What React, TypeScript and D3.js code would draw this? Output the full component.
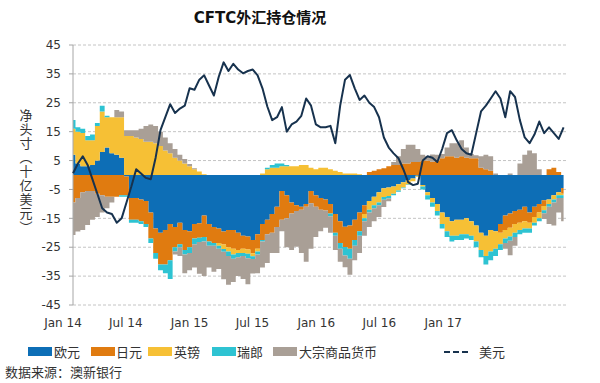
import React from 'react';
import * as d3 from 'd3';

// ---- data (bi-weekly observations, billions USD) ----
const START = new Date(2014, 0, 30);
const N = 102;
const dates: Date[] = d3.range(N).map((i) => d3.timeDay.offset(START, 14 * i));

const eur = [7,4,3,3,3.5,5,8,9.5,7.5,7,6,-0.5,-8,-8,-8.5,-9,-13,-18.5,-20,-19,-17,-18,-16.5,-19,-19.5,-17,-16.7,-14,-17,-18,-18.5,-19.6,-19,-19,-20,-21,-21.3,-22.5,-20.5,-17,-15.5,-13.5,-11,-5.5,-7,-9.5,-10.5,-11,-10,-5.5,-7,-8,-8.5,-10,-13.5,-16,-17.9,-17.5,-15.5,-13,-10.5,-9,-7.5,-6,-4.6,-4.3,-4,-3.2,-2.5,-1.8,-1.2,-0.3,-3.5,-6,-8,-10,-13,-14.5,-16,-15.5,-15.5,-15,-16,-17.5,-20,-21,-19,-19.5,-17,-14,-13.3,-12.5,-12,-11,-13,-11,-10,-8.7,-8.5,-7,-6,-4.5];
const jpy = [-9.5,-8,-6,-5.5,-5.5,-6.5,-7,-7.5,-7.5,-7.5,-7,-6.5,-7.5,-7.5,-7.5,-8,-9,-8.5,-11,-12,-12.5,-7,-7.5,-7,-5.5,-5,-5,-7.5,-6,-5.5,-5,-4.5,-6,-6.5,-6,-4.5,-4.5,-4.6,-5,-5.5,-5,-6.5,-7,-10,-8,-3.8,-2,-1,-1,-4.3,-4,-4,-3.8,-3.3,-6.5,-7.5,-7,-8,-7,-6.5,-3,1,1.5,2,2.3,3,3.5,3.5,4,4,4.5,4.5,5,5,4.6,5,5.8,6.5,6.5,6,6.5,6,5.8,5.8,2.5,2,1.5,0,-3,-5,-5,-4.5,-4.5,-5,-3.5,-3.5,-3,-2,2,2.5,1,-2];
const gbp = [9,11,11.5,9,8.5,12,14,10.5,12.5,13,14,13.5,13.5,13,12.5,11.5,11.5,11,10,8.5,7.5,6,5,4,3,2,1.2,0.3,0,0,-1,-1.5,-1.5,-2,-1,-1.5,-1.5,-1,-1,0.5,2,2.5,2.5,3,3,3,3,3.5,3.5,2.5,2,2.5,2.5,2,1.5,1,0.5,0.5,0.5,0.3,-1.5,-3,-3,-3.5,-3,-3,-2.5,-2.2,-1.8,-1.5,-1,-0.3,-0.5,-1,-1.5,-2.5,-4,-5,-5,-5.5,-5,-5.5,-5,-5.5,-6,-7,-7.5,-6,-4,-3,-3,-3,-2.5,-2.5,-2,-2,-2,-1.5,-1.5,-1.5,-1,-0.5];
const chf = [3,1.5,1.5,1.5,2,1,2,0.5,0,0,-0.5,-0.5,-1,-1,-1,-1,-1.5,-2,-2,-3,-6.5,-1.5,-1,-1.5,-2,-2,-1.5,-1.5,-1.5,-1,-1,-1,-1.5,-1.5,-1.5,-1,-1.5,-1,-1,-0.5,0.5,1,1.5,1,0.5,0,0,0,0,0,0,0,0,-1,-1,-2,-3,-3.5,-2,-1.5,-1,-1,-1,-1,-1,-0.8,-0.5,-0.4,-0.3,-0.2,0,0,-1,-1.5,-1.5,-1.5,-1.5,-2,-2,-1.5,-2,-1.5,-1.5,-2,-2.5,-3,-3,-2.5,-2,-1.5,-1.5,-1.5,-1.5,-1.5,-1.5,-1,-1,-1,-1,-1,-1,-1];
const commodityLong = [0,0,0,0,0,0,0,0,0,2.5,2,2,2,2.5,3.5,5.5,6,6,5,4.5,3.5,3,2,1.5,0.8,0.3,0,0,0,0,0,0,0,0,0,0,0,0,0,0,0,0,0,0,0,0,0,0,0,0,0,0,0,0,0,0,0,0,0,0,0,0,0,0,0,0,1,3,5,6.5,6,4.5,2,1.5,2.5,2,1.5,3,4.5,5,5.5,3.5,1.5,1,4,5,5,0.5,0,0,0.5,0,4,7,8.5,7.5,2,0,0,0,0,0];
const commodityShort = [-11.3,-11.6,-13,-11.8,-10,-8,-6,-4,-2,0,0,0,0,0,0,0,0,0,0,0,0,-1,-3,-6.5,-6,-8,-11,-12,-7.5,-9,-7,-9.5,-10,-8,-6.5,-8,-9,-5,-6.5,-9,-10,-7,-9,-4,-10,-12.7,-12.3,-15,-19,-15.7,-10.5,-7.5,-6,-5.7,-5,-4.5,-4,-5.5,-5,-6,-5,-5,-4.5,-4,-2.5,-1,0,0,0,0,0,0,0,0,0,0,0,0,0,0,0,0,0,0,0,0,0,0,0,-2,-5,-3,0,0,0,0,0,-2,-6,-8,-5,-8];
const usd = [0.6,4,6.5,3.5,-1.5,-6.5,-11.5,-13,-13.5,-16.5,-15,-9.5,-4,2,0.5,-1,-1.5,6,15.5,20,24.5,21.5,23,24,30,29.5,33,34.5,31,27.5,34,39,36,38.5,36.5,35.2,36,36.5,34.5,30,23.7,19,20,23.5,15,17.5,18.5,20.5,26.5,24,17.5,16.5,16.5,17,11,24,33,34.6,30,26,27.5,25,23.5,20,13,9.5,7.5,5.8,2,-2.5,-3.5,-3,5,6.5,6,4.5,9,14.5,15.5,12,9,7.5,7,14.5,22,24,26.5,29,26.5,20,29,27,19,13,11,14,18.5,14.5,16.5,14.5,12.5,16.5];

const yTicks = [-45, -35, -25, -15, -5, 5, 15, 25, 35, 45];
const xTickDates = [new Date(2014,0,1), new Date(2014,6,1), new Date(2015,0,1), new Date(2015,6,1), new Date(2016,0,1), new Date(2016,6,1), new Date(2017,0,1)];
const yTitle = '净头寸（十亿美元）';

const seriesKeys = ['eur', 'jpy', 'gbp', 'chf', 'comL', 'comS'];
const seriesNames: Record<string, string> = { eur: '欧元', jpy: '日元', gbp: '英镑', chf: '瑞郎', comL: '大宗商品货币', comS: '大宗商品货币' };
const colors: Record<string, string> = { eur: '#0D6EB6', jpy: '#E07B10', gbp: '#F6C035', chf: '#2EC3D2', comL: '#A99F96', comS: '#A99F96' };
const lineColor = '#17324E';

const FONT = '"DejaVu Sans", "Noto Sans CJK SC", sans-serif';
const CJK = '"Noto Sans CJK SC", "DejaVu Sans", sans-serif';

export default function App() {
  const W = 600, H = 383;
  const x = d3.scaleTime().domain([new Date(2014, 0, 1), new Date(2018, 0, 1)]).range([63, 63 + 1461 * 0.3469]);
  const y = d3.scaleLinear().domain([-45, 45]).range([305, 45]);
  const left = 73, right = 567;

  const rows = dates.map((d, i) => ({ date: d, eur: eur[i], jpy: jpy[i], gbp: gbp[i], chf: chf[i], comL: commodityLong[i], comS: commodityShort[i] }));
  const stacked = d3.stack<any>().keys(seriesKeys).offset(d3.stackOffsetDiverging)(rows);
  const area = d3.area<any>()
    .x((d) => x(d.data.date))
    .y0((d) => y(d[0]))
    .y1((d) => y(d[1]))
    .curve(d3.curveStep);
  const line = d3.line<number>()
    .x((_, i) => x(dates[i]))
    .y((v) => y(v))
    .curve(d3.curveLinear);

  const legend = [
    { key: 'eur', sx: 28, tx: 54 },
    { key: 'jpy', sx: 91, tx: 116 },
    { key: 'gbp', sx: 148, tx: 174 },
    { key: 'chf', sx: 212, tx: 237 },
    { key: 'comL', sx: 273, tx: 299 },
  ];

  return (
    <svg width={W} height={H} style={{ position: 'absolute', left: 0, top: 0, background: '#fff' }}>
      <rect x={0} y={0} width={W} height={H} fill="#fff" />
      <text x={260} y={23} textAnchor="middle" fontFamily={FONT} fontWeight="bold" fontSize={15} fill="#111">CFTC外汇持仓情况</text>

      {/* grid */}
      {yTicks.map((t) => (
        <g key={t}>
          <line x1={left} x2={right} y1={y(t)} y2={y(t)} stroke="#c4c4c4" strokeWidth={1} strokeDasharray="3,2" />
          <line x1={left - 4} x2={left} y1={y(t)} y2={y(t)} stroke="#a6a6a6" strokeWidth={1} />
          <text x={61} y={y(t)} dy="0.35em" textAnchor="end" fontFamily={FONT} fontSize={12} fill="#333">{t}</text>
        </g>
      ))}

      {/* stacked areas */}
      {stacked.map((s) => (
        <path key={s.key} d={area(s) || ''} fill={colors[s.key]} />
      ))}

      <line x1={left} x2={left} y1={y(45)} y2={y(-45)} stroke="#a6a6a6" strokeWidth={1} />

      <path d={line(usd) || ''} fill="none" stroke={lineColor} strokeWidth={2} strokeLinejoin="round" />

      {xTickDates.map((d, i) => (
        <text key={i} x={x(d)} y={327} textAnchor="middle" fontFamily={FONT} fontSize={12} fill="#333">{d3.timeFormat('%b %y')(d)}</text>
      ))}

      <text x={26} y={172} textAnchor="middle" fontFamily={CJK} fontSize={13} fill="#333" letterSpacing={1}
        style={{ writingMode: 'vertical-rl', textOrientation: 'upright' } as any}>{yTitle}</text>

      {legend.map((l) => (
        <g key={l.key}>
          <rect x={l.sx} y={347} width={24} height={9} fill={colors[l.key]} />
          <text x={l.tx} y={356.5} fontFamily={CJK} fontSize={13} fill="#333">{seriesNames[l.key]}</text>
        </g>
      ))}
      <line x1={444} x2={471} y1={352} y2={352} stroke={lineColor} strokeWidth={2} strokeDasharray="6,3" />
      <text x={479} y={356.5} fontFamily={CJK} fontSize={13} fill="#333">美元</text>

      <text x={5} y={377} fontFamily={CJK} fontSize={13} fill="#333">数据来源：澳新银行</text>
    </svg>
  );
}
